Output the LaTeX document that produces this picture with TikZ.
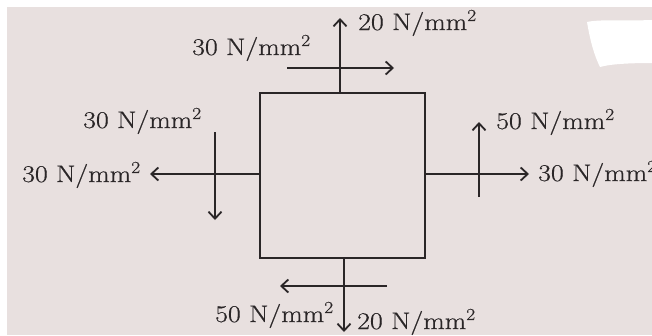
\documentclass[tikz,border=0pt]{standalone}
\usepackage{fontspec}
\newfontfamily\lblfont{Latin Modern Roman}[FakeBold=0.6]
\usetikzlibrary{arrows.meta}
\definecolor{paper}{HTML}{E8E0DF}
\definecolor{ink}{HTML}{2A2627}
\begin{document}
\begin{tikzpicture}[x=1pt,y=-1pt,
  force/.style={draw=ink,line width=2pt,-{Straight Barb[length=7pt,width=13pt,line width=1.8pt]}},
  lbl/.style={anchor=base west,inner sep=0pt,text=ink,font=\lblfont\fontsize{24}{28}\selectfont}]
\newcommand{\lab}[1]{\scalebox{1.16}[1]{#1\ N/mm\textsuperscript{2}}}
\useasboundingbox (0,0) rectangle (652,335);
\fill[paper] (0,0) rectangle (652,335);
\fill[white] (0,0) rectangle (652,7);
\fill[white] (0,0) rectangle (7,335);
\fill[white] (587,22) .. controls (600,19) and (630,21) .. (652,20) -- (652,63)
  .. controls (630,63) and (610,64) .. (600,67) .. controls (594,55) and (590,40) .. cycle;
% element
\node[draw=ink,line width=2pt,minimum width=165pt,minimum height=165pt,inner sep=0pt] (box) at (342.5,175.5) {};
% coordinates of free ends
\coordinate (tA) at (340,18);
\coordinate (hA0) at (287,68); \coordinate (hA1) at (394,68);
\coordinate (lA) at (150,174);
\coordinate (vL0) at (215,132); \coordinate (vL1) at (215,220);
\coordinate (rA) at (529,174);
\coordinate (vR0) at (479,197); \coordinate (vR1) at (479,122);
\coordinate (bA) at (344,332);
\coordinate (hB0) at (387,286); \coordinate (hB1) at (280,286);
% connectors
\draw[force] (box.north -| tA) -- (tA);
\draw[force] (hA0) -- (hA1);
\draw[force] (box.west |- lA) -- (lA);
\draw[force] (vL0) -- (vL1);
\draw[force] (box.east |- rA) -- (rA);
\draw[force] (vR0) -- (vR1);
\draw[force] (box.south -| bA) -- (bA);
\draw[force] (hB0) -- (hB1);
% labels
\node[lbl] (t1) at (358,30) {\lab{20}};
\node[lbl] (t2) at (192,55) {\lab{30}};
\node[lbl] (t3) at (83,128) {\lab{30}};
\node[lbl] (t4) at (22,182) {\lab{30}};
\node[lbl] (t5) at (496,129) {\lab{50}};
\node[lbl] (t6) at (538,181) {\lab{30}};
\node[lbl] (t7) at (215,322) {\lab{50}};
\node[lbl] (t8) at (357,329) {\lab{20}};
\end{tikzpicture}
\end{document}
